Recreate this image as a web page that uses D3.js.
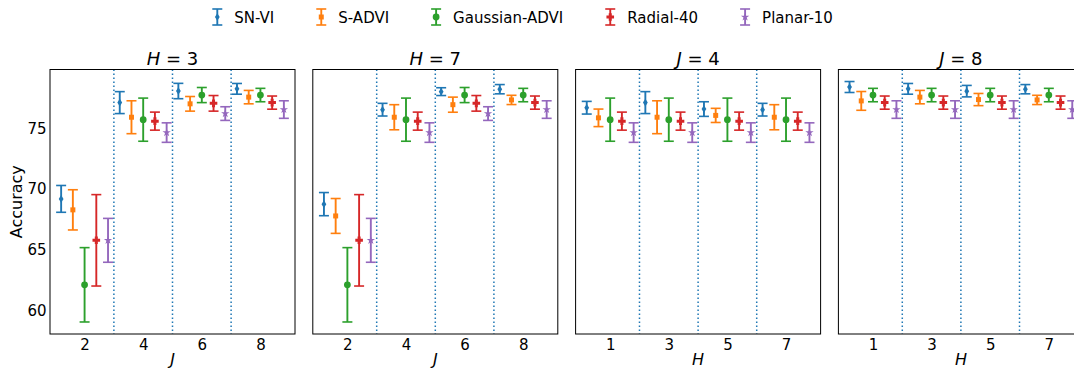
<!DOCTYPE html>
<html>
<head>
<meta charset="utf-8">
<script src="https://cdn.jsdelivr.net/npm/d3@7"></script>
<style>
  body { margin: 0; background: #fff; }
  svg { display: block; font-family: "DejaVu Sans", sans-serif; }
</style>
</head>
<body>
<svg id="chart" width="1074" height="369"></svg>
<script>
// Methods and their colours / markers
const methods = ["SN-VI", "S-ADVI", "Gaussian-ADVI", "Radial-40", "Planar-10"];
const colors = ["#1f77b4", "#ff7f0e", "#2ca02c", "#d62728", "#9467bd"];
const markers = ["thinDiamond", "square", "circle", "plus", "star"];

// Tick labels
const jTicks = [2, 4, 6, 8];
const hTicks = [1, 3, 5, 7];
const yTicks = [60, 65, 70, 75];

// Accuracy (mean, half-width) per method (rows) and group (columns)
// Panel H = 3, groups J = 2, 4, 6, 8
const meanH3 = [
  [69.20, 77.10, 78.05, 78.23],
  [68.30, 75.90, 77.00, 77.55],
  [62.15, 75.70, 77.72, 77.72],
  [65.80, 75.58, 77.04, 77.10],
  [65.80, 74.64, 76.20, 76.53]
];
const errH3 = [
  [1.10, 0.90, 0.63, 0.44],
  [1.65, 1.35, 0.60, 0.55],
  [3.05, 1.77, 0.62, 0.55],
  [3.75, 0.74, 0.64, 0.54],
  [1.80, 0.80, 0.56, 0.72]
];
// Panel H = 7, groups J = 2, 4, 6, 8
const meanH7 = [
  [68.77, 76.52, 78.00, 78.20],
  [67.80, 75.90, 76.93, 77.32],
  [62.15, 75.70, 77.72, 77.72],
  [65.80, 75.58, 77.04, 77.10],
  [65.80, 74.64, 76.20, 76.53]
];
const errH7 = [
  [0.95, 0.52, 0.32, 0.38],
  [1.43, 1.03, 0.62, 0.38],
  [3.05, 1.77, 0.62, 0.55],
  [3.75, 0.74, 0.64, 0.54],
  [1.80, 0.80, 0.56, 0.72]
];
// Panel J = 4, groups H = 1, 3, 5, 7
const meanJ4 = [
  [76.68, 77.10, 76.57, 76.52],
  [75.85, 75.90, 76.05, 75.90],
  [75.70, 75.70, 75.70, 75.70],
  [75.58, 75.58, 75.58, 75.58],
  [74.64, 74.64, 74.64, 74.64]
];
const errJ4 = [
  [0.52, 0.90, 0.60, 0.52],
  [0.72, 1.35, 0.58, 1.03],
  [1.77, 1.77, 1.77, 1.77],
  [0.74, 0.74, 0.74, 0.74],
  [0.80, 0.80, 0.80, 0.80]
];
// Panel J = 8, groups H = 1, 3, 5, 7
const meanJ8 = [
  [78.38, 78.23, 78.04, 78.20],
  [77.24, 77.55, 77.35, 77.32],
  [77.72, 77.72, 77.72, 77.72],
  [77.10, 77.10, 77.10, 77.10],
  [76.53, 76.53, 76.53, 76.53]
];
const errJ8 = [
  [0.45, 0.44, 0.47, 0.38],
  [0.77, 0.55, 0.50, 0.38],
  [0.55, 0.55, 0.55, 0.55],
  [0.54, 0.54, 0.54, 0.54],
  [0.72, 0.72, 0.72, 0.72]
];

const panels = [
  { sym: "H", val: "3", xLabel: "J", groups: jTicks, mean: meanH3, err: errH3 },
  { sym: "H", val: "7", xLabel: "J", groups: jTicks, mean: meanH7, err: errH7 },
  { sym: "J", val: "4", xLabel: "H", groups: hTicks, mean: meanJ4, err: errJ4 },
  { sym: "J", val: "8", xLabel: "H", groups: hTicks, mean: meanJ8, err: errJ8 }
];

// Layout
const panelLeft0 = 50, panelW = 245, panelStep = 262.8;
const plotTop = 69.5, plotBottom = 334;
const offset = 0.4;          // horizontal shift between methods within a group
const capHalf = 5;

const svg = d3.select("#chart");

// Shared y scale with 5% margins around all error bars
let lo = Infinity, hi = -Infinity;
panels.forEach(p => p.mean.forEach((row, m) => row.forEach((v, g) => {
  lo = Math.min(lo, v - p.err[m][g]);
  hi = Math.max(hi, v + p.err[m][g]);
})));
const pad = (hi - lo) * 0.05;
const y = d3.scaleLinear().domain([lo - pad, hi + pad]).range([plotBottom, plotTop]);

function markerPath(kind) {
  const p = d3.path();
  if (kind === "thinDiamond") {
    const h = 3.8, w = 2.4;
    p.moveTo(0, -h); p.lineTo(w, 0); p.lineTo(0, h); p.lineTo(-w, 0); p.closePath();
  } else if (kind === "square") {
    const s = 2.5;
    p.rect(-s, -s, 2 * s, 2 * s);
  } else if (kind === "circle") {
    p.arc(0, 0, 3.4, 0, 2 * Math.PI);
  } else if (kind === "plus") {
    const a = 3.8, t = 1.5;
    p.moveTo(-t, -a); p.lineTo(t, -a); p.lineTo(t, -t); p.lineTo(a, -t); p.lineTo(a, t);
    p.lineTo(t, t); p.lineTo(t, a); p.lineTo(-t, a); p.lineTo(-t, t); p.lineTo(-a, t);
    p.lineTo(-a, -t); p.lineTo(-t, -t); p.closePath();
  } else if (kind === "star") {
    const ro = 4.4, ri = ro * 0.382;
    for (let k = 0; k < 10; k++) {
      const r = k % 2 === 0 ? ro : ri;
      const ang = -Math.PI / 2 + k * Math.PI / 5;
      const px = r * Math.cos(ang), py = r * Math.sin(ang);
      if (k === 0) p.moveTo(px, py); else p.lineTo(px, py);
    }
    p.closePath();
  }
  return p.toString();
}

function errorBar(g, cx, yHi, yLo, cy, m) {
  const c = colors[m];
  g.append("line").attr("x1", cx).attr("x2", cx).attr("y1", yHi).attr("y2", yLo)
    .attr("stroke", c).attr("stroke-width", 1.9);
  [yHi, yLo].forEach(yy => g.append("line")
    .attr("x1", cx - capHalf).attr("x2", cx + capHalf).attr("y1", yy).attr("y2", yy)
    .attr("stroke", c).attr("stroke-width", 1.6));
  g.append("path").attr("d", markerPath(markers[m]))
    .attr("transform", `translate(${cx},${cy})`).attr("fill", c);
}

panels.forEach((p, i) => {
  const left = panelLeft0 + i * panelStep;
  const g0 = p.groups[0], g1 = p.groups[p.groups.length - 1];
  const xMin = g0 - 2 * offset, xMax = g1 + 2 * offset;
  const xPad = (xMax - xMin) * 0.05;
  const x = d3.scaleLinear().domain([xMin - xPad, xMax + xPad]).range([left, left + panelW]);

  const g = svg.append("g");

  // dotted separators between groups
  p.groups.slice(0, -1).forEach(v => {
    g.append("line").attr("x1", x(v + 1)).attr("x2", x(v + 1))
      .attr("y1", plotTop).attr("y2", plotBottom)
      .attr("stroke", colors[0]).attr("stroke-width", 1.5)
      .attr("stroke-dasharray", "1.5,2.5");
  });

  // error bars
  p.mean.forEach((row, m) => row.forEach((v, k) => {
    const cx = x(p.groups[k] + (m - 2) * offset);
    errorBar(g, cx, y(v + p.err[m][k]), y(v - p.err[m][k]), y(v), m);
  }));

  // frame
  g.append("rect").attr("x", left).attr("y", plotTop).attr("width", panelW).attr("height", plotBottom - plotTop)
    .attr("fill", "none").attr("stroke", "#000").attr("stroke-width", 1);

  // x axis (no tick marks, labels only)
  const xAxis = d3.axisBottom(x).tickValues(p.groups).tickSize(0).tickPadding(0).tickFormat(d3.format("d"));
  const ax = g.append("g").attr("transform", `translate(0,${plotBottom})`).call(xAxis);
  ax.select(".domain").remove();
  ax.selectAll("text").attr("dy", null).attr("y", 16).attr("font-size", 15)
    .attr("font-family", "DejaVu Sans").attr("fill", "#000");

  // y axis labels on the first panel only
  if (i === 0) {
    const yAxis = d3.axisLeft(y).tickValues(yTicks).tickSize(0).tickPadding(3.5);
    const ay = g.append("g").attr("transform", `translate(${left},0)`).call(yAxis);
    ay.select(".domain").remove();
    ay.selectAll("text").attr("font-size", 15).attr("font-family", "DejaVu Sans").attr("fill", "#000");
    svg.append("text").attr("transform", `translate(22,${(plotTop + plotBottom) / 2}) rotate(-90)`)
      .attr("text-anchor", "middle").attr("font-size", 16).text("Accuracy");
  }

  // title
  const t = svg.append("text").attr("x", left + panelW / 2).attr("y", 64.5)
    .attr("text-anchor", "middle").attr("font-size", 18);
  t.append("tspan").attr("font-style", "italic").text(p.sym);
  t.append("tspan").text(" = " + p.val);

  // x label
  svg.append("text").attr("x", left + panelW / 2).attr("y", 365)
    .attr("text-anchor", "middle").attr("font-size", 16).attr("font-style", "italic")
    .text(p.xLabel);
});

// legend
const legend = svg.append("g");
let lx = 217.3;
methods.forEach((name, m) => {
  const item = legend.append("g");
  errorBar(item, lx, 9, 25, 17, m);
  const txt = item.append("text").attr("x", lx + 17).attr("y", 22.5).attr("font-size", 15).text(name);
  lx = lx + 17 + txt.node().getComputedTextLength() + 47;
});
</script>
</body>
</html>
